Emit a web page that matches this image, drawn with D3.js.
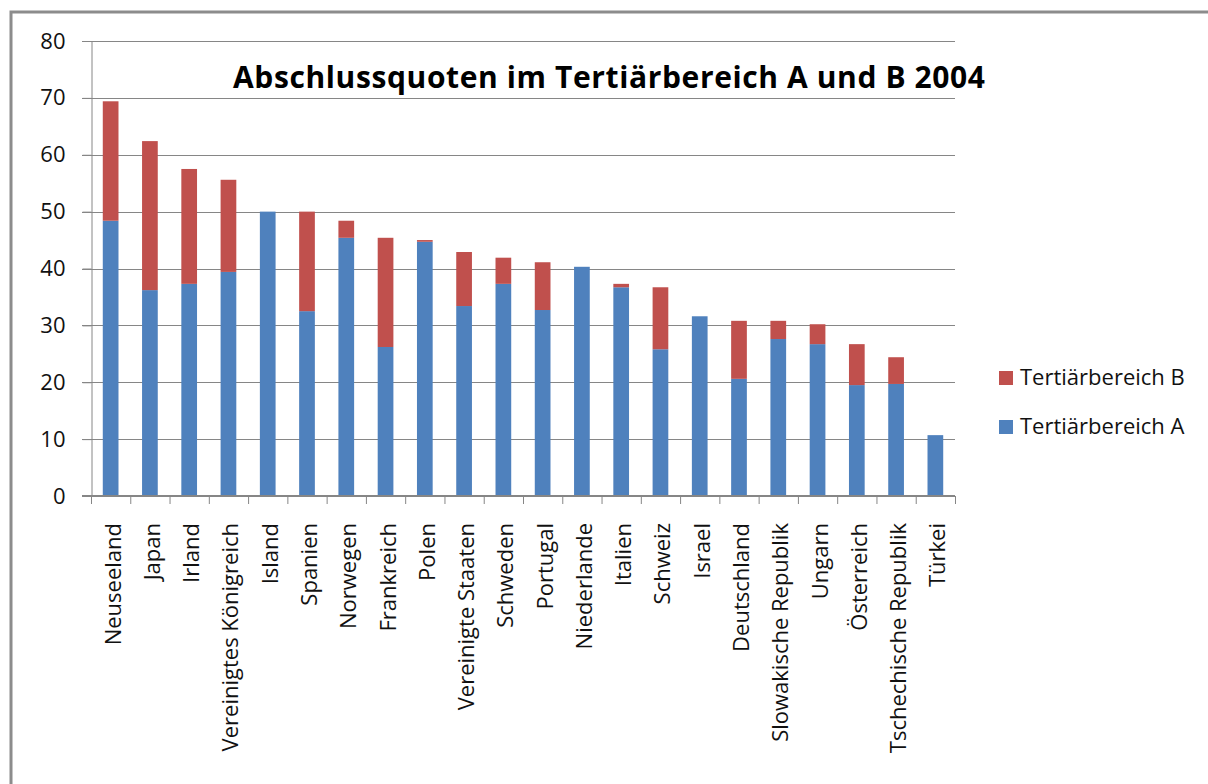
<!DOCTYPE html>
<html lang="de">
<head>
    <meta charset="UTF-8">
    <title>Abschlussquoten im Tertiärbereich A und B 2004</title>
    <script src="https://d3js.org/d3.v7.min.js"></script>
    <style>
        body {
            margin: 0;
            background: #fff;
        }
        svg {
            display: block;
            font-family: "Open Sans", sans-serif;
        }
    </style>
</head>
<body>
    <div id="chart"></div>

    <script>
        // Werte
        const countries = [
            "Neuseeland", "Japan", "Irland", "Vereinigtes Königreich", "Island",
            "Spanien", "Norwegen", "Frankreich", "Polen", "Vereinigte Staaten",
            "Schweden", "Portugal", "Niederlande", "Italien", "Schweiz", "Israel",
            "Deutschland", "Slowakische Republik", "Ungarn", "Österreich",
            "Tschechische Republik", "Türkei"
        ];
        const tertA = [48.4, 36.2, 37.3, 39.4, 50.0, 32.5, 45.4, 26.2, 44.7, 33.4, 37.3,
                       32.7, 40.3, 36.7, 25.8, 31.6, 20.6, 27.6, 26.7, 19.5, 19.7, 10.7];
        const tertB = [21.0, 26.2, 20.2, 16.2, 0.0, 17.5, 3.0, 19.2, 0.3, 9.5, 4.6,
                       8.4, 0.0, 0.6, 10.9, 0.0, 10.2, 3.2, 3.5, 7.2, 4.7, 0.0];
        const seriesNames = ["Tertiärbereich A", "Tertiärbereich B"];
        const yTicks = [0, 10, 20, 30, 40, 50, 60, 70, 80];
        const title = "Abschlussquoten im Tertiärbereich A und B 2004";

        const width = 1208, height = 784;
        const margin = { top: 41, left: 91, right: 253, bottom: 288 };
        const colors = { A: "#4f81bd", B: "#c0504d" };
        const gridColor = "#868686";

        const svg = d3.select("#chart")
            .append("svg")
            .attr("width", width)
            .attr("height", height);

        // Rahmen um das Diagramm
        svg.append("rect")
            .attr("x", 11).attr("y", 12)
            .attr("width", 1300).attr("height", 900)
            .attr("fill", "none")
            .attr("stroke", "#8c8c8c")
            .attr("stroke-width", 3);

        const x = d3.scaleBand()
            .domain(countries)
            .range([margin.left, width - margin.right])
            .paddingInner(0.6)
            .paddingOuter(0.3);

        const y = d3.scaleLinear()
            .domain([0, 80])
            .range([height - margin.bottom, margin.top]);

        // Gitterlinien
        svg.append("g")
            .selectAll("line")
            .data(yTicks.filter(d => d > 0))
            .join("line")
            .attr("x1", margin.left - 9)
            .attr("x2", width - margin.right)
            .attr("y1", d => Math.round(y(d)) + 0.5)
            .attr("y2", d => Math.round(y(d)) + 0.5)
            .attr("stroke", gridColor)
            .attr("stroke-width", 1);

        // gestapelte Balken
        const table = countries.map((c, i) => ({ country: c, A: tertA[i], B: tertB[i] }));
        const stack = d3.stack().keys(["A", "B"])(table);

        svg.append("g")
            .selectAll("g")
            .data(stack)
            .join("g")
            .attr("fill", s => colors[s.key])
            .selectAll("rect")
            .data(s => s)
            .join("rect")
            .attr("x", d => x(d.data.country))
            .attr("width", x.bandwidth())
            .attr("y", d => y(d[1]))
            .attr("height", d => y(d[0]) - y(d[1]));

        // y-Achse
        const yAxis = svg.append("g")
            .attr("transform", `translate(${margin.left + 0.5},0)`)
            .call(d3.axisLeft(y).tickValues(yTicks).tickSize(9).tickPadding(17));
        yAxis.select(".domain").attr("stroke", gridColor);
        yAxis.selectAll(".tick line").attr("stroke", gridColor);
        yAxis.selectAll("text")
            .attr("font-size", 22)
            .attr("fill", "#111")
            .attr("font-family", "'Open Sans', sans-serif");

        // x-Achse mit Trennstrichen zwischen den Kategorien
        const baseY = y(0);
        const xg = svg.append("g");
        xg.append("line")
            .attr("x1", margin.left - 9)
            .attr("x2", width - margin.right)
            .attr("y1", baseY).attr("y2", baseY)
            .attr("stroke", gridColor)
            .attr("stroke-width", 2);
        const step = x.step();
        const x0 = x.range()[0];
        xg.selectAll("line.sep")
            .data(d3.range(countries.length + 1))
            .join("line")
            .attr("class", "sep")
            .attr("x1", i => x0 + i * step + 0.5)
            .attr("x2", i => x0 + i * step + 0.5)
            .attr("y1", baseY)
            .attr("y2", baseY + 8)
            .attr("stroke", gridColor);

        xg.selectAll("text")
            .data(countries)
            .join("text")
            .attr("transform", d => `translate(${x(d) + x.bandwidth() / 2 + 10},${baseY + 27}) rotate(-90)`)
            .attr("text-anchor", "end")
            .attr("font-size", 22)
            .attr("fill", "#111")
            .text(d => d);

        // Titel
        svg.append("text")
            .attr("x", 233)
            .attr("y", 88)
            .attr("font-size", 30)
            .attr("font-weight", "bold")
            .attr("fill", "#000")
            .attr("textLength", 752)
            .attr("lengthAdjust", "spacing")
            .text(title);

        // Legende (B oben, A unten)
        const legend = svg.append("g")
            .selectAll("g")
            .data([{ name: seriesNames[1], key: "B" }, { name: seriesNames[0], key: "A" }])
            .join("g")
            .attr("transform", (d, i) => `translate(999,${371 + i * 49})`);
        legend.append("rect")
            .attr("width", 14).attr("height", 14)
            .attr("fill", d => colors[d.key]);
        legend.append("text")
            .attr("x", 21)
            .attr("y", 14)
            .attr("font-size", 22)
            .attr("fill", "#111")
            .text(d => d.name);
    </script>
</body>
</html>
